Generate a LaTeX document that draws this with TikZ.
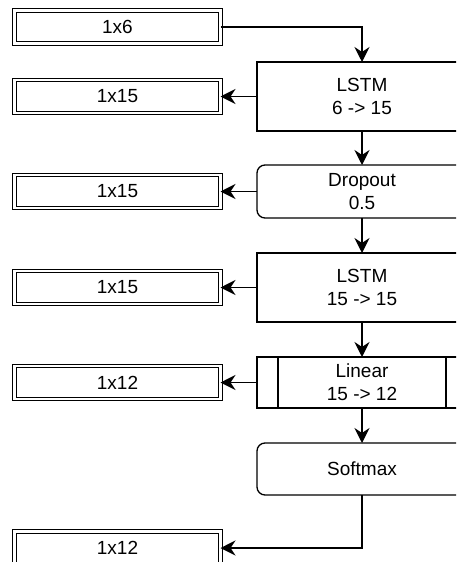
\documentclass[tikz,border=0pt]{standalone}
\usepackage{fontspec}
\setmainfont{Liberation Sans}
\usetikzlibrary{arrows.meta,positioning}
\begin{document}
\begin{tikzpicture}[x=1pt,y=-1pt,
  font=\fontsize{19}{23}\selectfont,
  every node/.style={inner sep=0pt, outer sep=0pt},
  tensor/.style={draw, double, double distance=2.4pt, line width=1.2pt, minimum width=206pt, minimum height=33pt},
  layer/.style={draw, line width=1.3pt, minimum width=210pt, align=center},
  rlayer/.style={layer, rounded corners=8pt},
  conn/.style={line width=1.3pt, -{Stealth[length=15pt,width=15pt,inset=5pt]}}
]
\useasboundingbox (0,0) rectangle (456,562);
\clip (0,0) rectangle (456,562);
% left tensors
\node[tensor] (t0) at (117.5,27) {1x6};
\node[tensor] (t1) at (117.5,96.5) {1x15};
\node[tensor] (t2) at (117.5,191.5) {1x15};
\node[tensor] (t3) at (117.5,287.5) {1x15};
\node[tensor] (t4) at (117.5,382.5) {1x12};
\node[tensor] (t5) at (117.5,548) {1x12};
% right layers
\node[layer, minimum height=69pt] (l1) at (362,96.5) {LSTM\\6 -> 15};
\node[rlayer, minimum height=53pt] (d1) at (362,191.5) {Dropout\\0.5};
\node[layer, minimum height=69pt] (l2) at (362,287.5) {LSTM\\15 -> 15};
\node[layer, minimum height=51pt] (lin) at (362,382.5) {Linear\\15 -> 12};
\draw[line width=1.3pt] ([xshift=21pt]lin.north west) -- ([xshift=21pt]lin.south west);
\draw[line width=1.3pt] ([xshift=-21pt]lin.north east) -- ([xshift=-21pt]lin.south east);
\node[rlayer, minimum height=52pt] (sm) at (362,469) {Softmax};
% connectors
\draw[conn] (t0.east) -| (l1.north);
\draw[conn] (l1.south) -- (d1.north);
\draw[conn] (d1.south) -- (l2.north);
\draw[conn] (l2.south) -- (lin.north);
\draw[conn] (lin.south) -- (sm.north);
\draw[conn] (l1.west) -- (t1.east);
\draw[conn] (d1.west) -- (t2.east);
\draw[conn] (l2.west) -- (t3.east);
\draw[conn] (lin.west) -- (t4.east);
\draw[conn] (sm.south) |- (t5.east);
\end{tikzpicture}
\end{document}
